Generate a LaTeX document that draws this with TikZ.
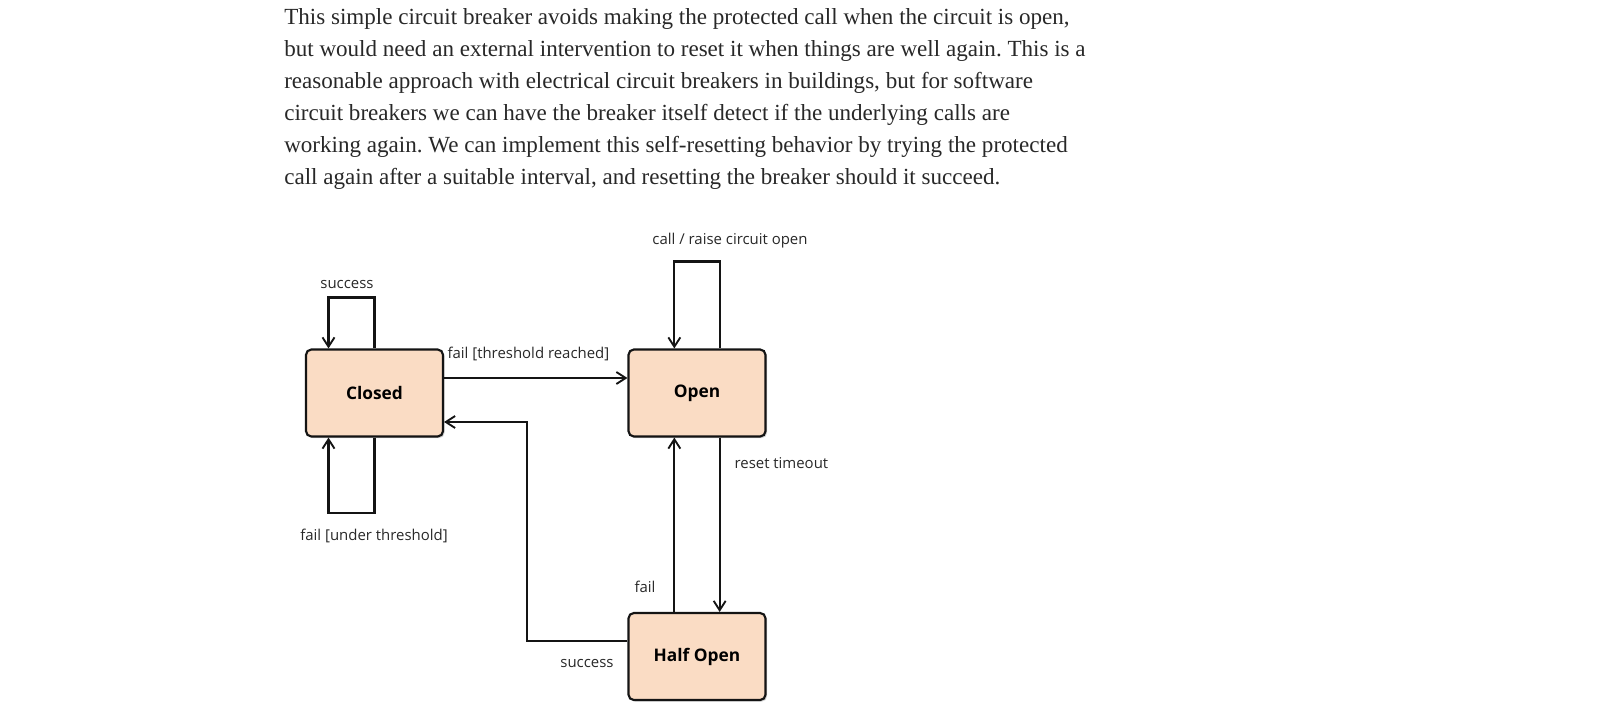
\documentclass[tikz,border=0pt]{standalone}
\usepackage{fontspec}
\setmainfont{Liberation Serif}
\newfontfamily\diafont{Open Sans}
\usepackage{tikz}
\usetikzlibrary{arrows.meta}
\usetikzlibrary{shadows}
\frenchspacing

\definecolor{peach}{RGB}{250,220,196}
\definecolor{ink}{RGB}{20,20,20}
\definecolor{prose}{RGB}{40,40,40}

\begin{document}
\begin{tikzpicture}[x=0.75pt,y=-0.75pt,
		>={Straight Barb[length=7pt,width=9pt,line width=1.4pt]},
		state/.style={rectangle,rounded corners=4pt,draw=ink,line width=1.6pt,fill=peach,
			minimum width=102.75pt,minimum height=65.25pt,font=\diafont\fontsize{13}{15}\selectfont\bfseries,
			drop shadow={shadow xshift=1.2pt,shadow yshift=-1.2pt,opacity=0.35}},
		lbl/.style={font=\diafont\fontsize{11.2}{13}\selectfont,text=prose,inner sep=1pt},
		link/.style={draw=ink,line width=1.6pt}]
			\useasboundingbox (0,0) rectangle (1621,711);
			
			% text above
			
			\foreach \t [count=\i] in {
				{This simple circuit breaker avoids making the protected call when the circuit is open,},
				{but would need an external intervention to reset it when things are well again. This is a},
				{reasonable approach with electrical circuit breakers in buildings, but for software},
				{circuit breakers we can have the breaker itself detect if the underlying calls are},
				{working again. We can implement this self-resetting behavior by trying the protected},
				{call again after a suitable interval, and resetting the breaker should it succeed.}} {
				\node[anchor=base west,inner sep=0pt,text=prose,font=\fontsize{17.3}{24}\selectfont] (P\i) at (284,{24+(\i-1)*32}) {\t};
			}
			
			% states
			
			\node[state] (C) at (374.5,393) {Closed};
			\node[state] (O) at (697,393) {Open};
			\node[state] (H) at (697,656.5) {Half Open};
			
			% transitions
			
			\draw[link,->] (C.north) -- ++(0,-51) -| ([xshift=-34.5pt]C.north);
			\draw[link,->] (C.south) -- ++(0,75) -| ([xshift=-34.5pt]C.south);
			\draw[link,->] ([yshift=11.25pt]C.east) -- ([yshift=11.25pt]O.west);
			\draw[link,->] ([xshift=17pt]O.north) -- ++(0,-87) -| ([xshift=-17pt]O.north);
			\draw[link,->] ([xshift=17pt]O.south) -- ([xshift=17pt]H.north);
			\draw[link,->] ([xshift=-17pt]H.north) -- ([xshift=-17pt]O.south);
			\draw[link,->] ([yshift=11.5pt]H.west) -- ++(-100.5,0) |- ([yshift=-21.75pt]C.east);
			
			% labels
			
			\node[lbl] (l1) at (347,284) {success};
			\node[lbl] (l2) at (374,535.5) {fail [under threshold]};
			\node[lbl,anchor=west] (l3) at (446,353.5) {fail [threshold reached]};
			\node[lbl] (l4) at (730,241) {call / raise circuit open};
			\node[lbl,anchor=west] (l5) at (733,463) {reset timeout};
			\node[lbl] (l6) at (645,587) {fail};
			\node[lbl] (l7) at (587,663) {success};
			
		\end{tikzpicture}
\end{document}
